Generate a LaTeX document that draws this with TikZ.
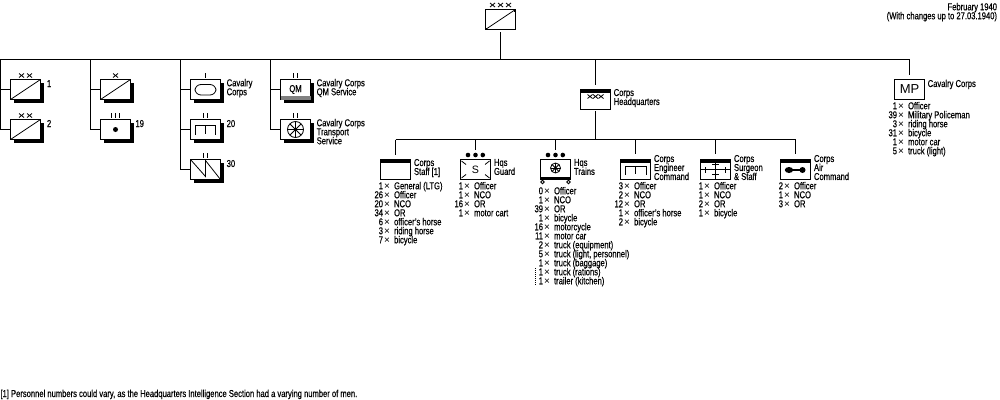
\documentclass[tikz,border=0pt]{standalone}
\usepackage{fontspec}
\usetikzlibrary{shadows}
\setmainfont[FakeStretch=0.76,FakeBold=0.4]{Liberation Sans}
\newfontfamily\widefont{Liberation Sans}
\newcommand{\st}[2]{\makebox[6pt][r]{#1}\hspace{.75pt}{\widefont ×}\hspace{3.2pt}#2}
\newcommand{\xm}[2]{\draw[glyphline] (#1-2.5,#2-2)--(#1+2.5,#2+2) (#1-2.5,#2+2)--(#1+2.5,#2-2);}
\newcommand{\tk}[2]{\draw[glyphline] (#1,#2-2.5)--(#1,#2+2.5);}
\newcommand{\hdr}[1]{\fill[black] (#1.north west) rectangle ([yshift=-2.6pt]#1.north east);}
\newcommand{\wheel}[3]{\draw[glyphline] (#1,#2) circle (#3);
  \foreach \a in {0,45,...,315}{\draw[glyphline] (#1,#2)--++(\a:#3);}
  \fill (#1,#2) circle (1.3);}
\tikzset{
  x=.75pt,y=-.75pt,
  conn/.style={line width=.75pt,black},
  glyphline/.style={line width=.6pt,black},
  unitbox/.style={draw=black,fill=white,line width=.75pt,rectangle,minimum width=22.5pt,minimum height=15pt,inner sep=0pt,outer sep=0pt},
  shadowbox/.style={unitbox,general shadow={fill=black,shadow xshift=2.25pt,shadow yshift=-2.25pt}},
  lab/.style={anchor=north west,inner sep=0pt,outer sep=0pt,align=left,
    font=\fontsize{7.5}{6.75}\selectfont,
    execute at begin node={\lineskiplimit=-6pt\lineskip=0pt\baselineskip=6.75pt\rule{0pt}{6pt}}},
}
\begin{document}
\begin{tikzpicture}
\useasboundingbox (0,0) rectangle (1000,400);
\fill[white] (0,0) rectangle (1000,400);
% units
\node[unitbox] (corps) at (500.5,19.5) {};
\node[shadowbox] (d1) at (25.5,89.5) {};
\node[shadowbox] (d2) at (25.5,129.5) {};
\node[shadowbox] (bde) at (115.5,89.5) {};
\node[shadowbox] (r19) at (115.5,129.5) {};
\node[shadowbox] (cav) at (205.5,89.5) {};
\node[shadowbox] (b20) at (205.5,129.5) {};
\node[shadowbox] (b30) at (205.5,169.5) {};
\node[shadowbox,font=\fontsize{7.5}{9}\selectfont] (qm) at (295.5,89.5) {\raisebox{1pt}{QM}};
\node[shadowbox] (trn) at (295.5,129.5) {};
\node[unitbox] (hq) at (595.5,99.5) {};
\node[unitbox,font=\widefont\fontsize{9.75}{11}\selectfont] (mp) at (909.5,89.5) {MP};
\node[unitbox] (staff) at (395.5,169.5) {};
\node[unitbox,font=\widefont\fontsize{8}{9}\selectfont] (guard) at (475.5,169.5) {S};
\node[unitbox] (trains) at (555.5,169.5) {};
\node[unitbox] (eng) at (635.5,169.5) {};
\node[unitbox] (surg) at (715.5,169.5) {};
\node[unitbox] (air) at (795.5,169.5) {};
% connector coordinates
\coordinate (busW) at (0,59.5);
\coordinate (busB) at (90.5,59.5);
\coordinate (busC) at (180.5,59.5);
\coordinate (busD) at (270.5,59.5);
\coordinate (busA) at (0.5,59.5);
\coordinate (busH) at (595.5,59.5);
\coordinate (busE) at (909.5,59.5);
\coordinate (corpsOut) at (500.5,32);
\coordinate (hqIn) at (595.5,85);
\coordinate (hqOut) at (595.5,111);
\coordinate (hqBus) at (595.5,139.5);
\coordinate (mpIn) at (909.5,75);
\coordinate (staffTap) at (395.5,139.5);
\coordinate (guardTap) at (475.5,139.5);
\coordinate (trainsTap) at (555.5,139.5);
\coordinate (engTap) at (635.5,139.5);
\coordinate (surgTap) at (715.5,139.5);
\coordinate (airTap) at (795.5,139.5);
\coordinate (staffIn) at (395.5,155);
\coordinate (guardIn) at (475.5,149.5);
\coordinate (trainsIn) at (555.5,149.5);
\coordinate (engIn) at (635.5,154);
\coordinate (surgIn) at (715.5,154);
\coordinate (airIn) at (795.5,154);
% connectors
\draw[conn] (busW) -- (busE) -- (mpIn);
\draw[conn] (corpsOut) -- (corpsOut |- busW);
\draw[conn] (busA) |- (d2.west);
\draw[conn] (busA |- d1.west) -- (d1.west);
\draw[conn] (busB) |- (r19.west);
\draw[conn] (busB |- bde.west) -- (bde.west);
\draw[conn] (busC) |- (b30.west);
\draw[conn] (busC |- cav.west) -- (cav.west);
\draw[conn] (busC |- b20.west) -- (b20.west);
\draw[conn] (busD) |- (trn.west);
\draw[conn] (busD |- qm.west) -- (qm.west);
\draw[conn] (busH) -- (hqIn);
\draw[conn] (hqOut) -- (hqBus);
\draw[conn] (staffTap) -- (airTap);
\draw[conn] (staffTap) -- (staffIn);
\draw[conn] (guardTap) -- (guardIn);
\draw[conn] (trainsTap) -- (trainsIn);
\draw[conn] (engTap) -- (engIn);
\draw[conn] (surgTap) -- (surgIn);
\draw[conn] (airTap) -- (airIn);
% diagonals
\foreach \n in {corps,d1,d2,bde}{\draw[glyphline] (\n.south west)--(\n.north east);}
\fill (corps.north east) ++(-1.5,0) rectangle ++(2,2);
\fill (corps.south west) ++(-.5,-1.5) rectangle ++(2,2);
% size marks
\xm{492.5}{5}\xm{500.5}{5}\xm{508.5}{5}
\xm{21.5}{75.5}\xm{29.5}{75.5}
\xm{21.5}{115.5}\xm{29.5}{115.5}
\xm{115.5}{75.5}
\tk{111.5}{115.5}\tk{115.5}{115.5}\tk{119.5}{115.5}
\tk{205.5}{75.5}
\tk{203.5}{115.5}\tk{207.5}{115.5}
\tk{203.5}{155.5}\tk{207.5}{155.5}
\tk{293.5}{75.5}\tk{297.5}{75.5}
\tk{293.5}{115.5}\tk{297.5}{115.5}
% inner symbols
\fill (115.5,129.5) circle (2.5);
\draw[glyphline,rounded corners=4.5] (195,84.5) rectangle (216,95);
\draw[glyphline] (195.5,134.5)--(195.5,125.5)--(215.5,125.5)--(215.5,134.5) (205.5,125.5)--(205.5,134);
\draw[glyphline] (b30.north west)--(205.5,176.5)--(205.5,160.5)--(b30.south east);
\fill[gray] (281,96) rectangle (310.5,99.5);
\wheel{295.5}{129.5}{8}
% headquarters family
\hdr{hq}
\xm{590}{96.5}\xm{595.5}{96.5}\xm{601}{96.5}
\hdr{staff}
\fill (468,155) circle (2.3) (475.5,155) circle (2.3) (482.8,155) circle (2.3);
\fill (548,155) circle (2.3) (555.5,155) circle (2.3) (562.8,155) circle (2.3);
\draw[glyphline] (461.5,161)--(466,164.5) (489.5,161)--(485,164.5) (461.5,178)--(466,174.5) (489.5,178)--(485,174.5);
\fill (trains.south west) ++(0,-3) rectangle (trains.south east);
\wheel{555.5}{168}{5}
\draw[glyphline] (542.5,182) circle (1.8) (568.5,182) circle (1.8);
\hdr{eng}
\draw[glyphline] (625.5,174.5)--(625.5,166.5)--(646,166.5)--(646,174.5) (635.5,166.5)--(635.5,174);
\hdr{surg}
\draw[glyphline] (701,169.5)--(730,169.5) (715.5,162)--(715.5,179) (712,164.5)--(719,164.5) (712,174.5)--(719,174.5) (705.5,167)--(705.5,172.5) (725.5,167)--(725.5,172.5);
\hdr{air}
\fill (789,170) ellipse (4.2 and 3) (802.5,170) circle (3);
\draw[line width=1.2pt] (789,170)--(802.5,170);
% labels
\node[lab] (l1) at (47,79) {1};
\node[lab] (l2) at (47,119) {2};
\node[lab] (l19) at (135.5,119) {19};
\node[lab] (lcav) at (226.7,79) {Cavalry\\Corps};
\node[lab] (l20) at (226.7,119) {20};
\node[lab] (l30) at (226.7,159) {30};
\node[lab] (lqm) at (316.7,79) {Cavalry Corps\\QM Service};
\node[lab] (ltrn) at (316.7,119) {Cavalry Corps\\Transport\\Service};
\node[lab] (lhq) at (613.7,89) {Corps\\Headquarters};
\node[lab] (lstaff) at (414,159) {Corps\\Staff [1]};
\node[lab] (lguard) at (494,159) {Hqs\\Guard};
\node[lab] (ltrains) at (574,159) {Hqs\\Trains};
\node[lab] (leng) at (654,155) {Corps\\Engineer\\Command};
\node[lab] (lsurg) at (734,155) {Corps\\Surgeon\\\& Staff};
\node[lab] (lair) at (814,155) {Corps\\Air\\Command};
\node[lab] (lmp) at (927.7,79) {Cavalry Corps};
\node[lab,anchor=north east,align=right] (date) at (997,3) {February 1940\hspace{2pt}\\(With changes up to 27.03.1940)};
\node[lab] (note) at (0.5,389) {[1] Personnel numbers could vary, as the Headquarters Intelligence Section had a varying number of men.};
% strength lists
\node[lab] (sstaff) at (375,182) {\st{1}{General (LTG)}\\\st{26}{Officer}\\\st{20}{NCO}\\\st{34}{OR}\\\st{6}{officer's horse}\\\st{3}{riding horse}\\\st{7}{bicycle}};
\node[lab] (sguard) at (455,182) {\st{1}{Officer}\\\st{1}{NCO}\\\st{16}{OR}\\\st{1}{motor cart}};
\node[lab] (strains) at (535,187) {\st{0}{Officer}\\\st{1}{NCO}\\\st{39}{OR}\\\st{1}{bicycle}\\\st{16}{motorcycle}\\\st{11}{motor car}\\\st{2}{truck (equipment)}\\\st{5}{truck (light, personnel)}\\\st{1}{truck (baggage)}\\\st{1}{truck (rations)}\\\st{1}{trailer (kitchen)}};
\node[lab] (seng) at (615,182) {\st{3}{Officer}\\\st{2}{NCO}\\\st{12}{OR}\\\st{1}{officer's horse}\\\st{2}{bicycle}};
\node[lab] (ssurg) at (695,182) {\st{1}{Officer}\\\st{1}{NCO}\\\st{2}{OR}\\\st{1}{bicycle}};
\node[lab] (sair) at (775,182) {\st{2}{Officer}\\\st{1}{NCO}\\\st{3}{OR}};
\node[lab] (smp) at (889,102) {\st{1}{Officer}\\\st{39}{Military Policeman}\\\st{3}{riding horse}\\\st{31}{bicycle}\\\st{1}{motor car}\\\st{5}{truck (light)}};
\coordinate (dotA) at (535.5,268);
\coordinate (dotB) at (535.5,286);
\draw[line width=.75pt,dash pattern=on .75pt off .75pt] (dotA) -- (dotB);
\end{tikzpicture}
\end{document}
